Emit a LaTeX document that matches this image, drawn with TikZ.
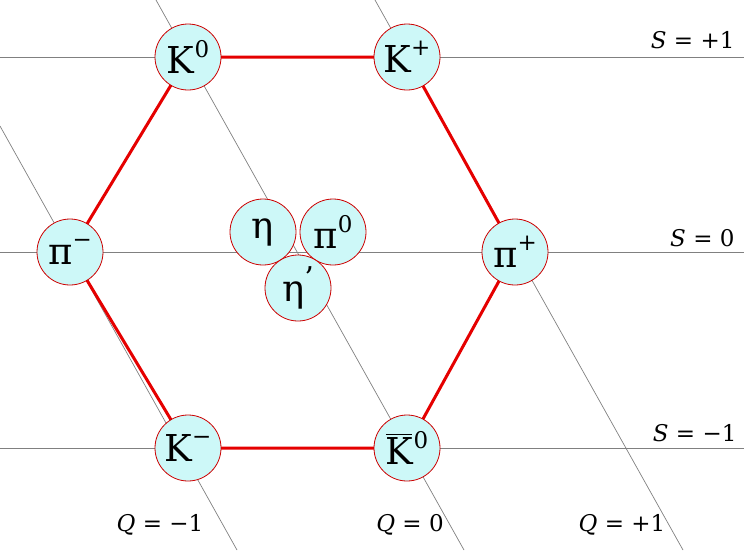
\documentclass[tikz,border=0pt]{standalone}
\usepackage{fontspec}
\setmainfont{DejaVu Serif}
\definecolor{mesonfill}{RGB}{205,248,248}
\newcommand{\up}[1]{\raisebox{0.45em}{\fontsize{23}{23}\selectfont #1}}
\tikzset{
  meson/.style={circle, draw=red!80!black, fill=mesonfill, line width=0.8pt, minimum size=66pt, inner sep=0pt, font=\fontsize{37}{39}\selectfont},
  grid line/.style={gray, line width=0.7pt},
  octet/.style={red!90!black, line width=3pt},
  axis label/.style={font=\fontsize{23}{25}\selectfont}
}
\begin{document}
\begin{tikzpicture}[x=1pt,y=-1pt]
  \useasboundingbox (0,0) rectangle (744,550);
  % strangeness lines
  \draw[grid line] (0,57) -- (744,57);
  \draw[grid line] (0,252) -- (744,252);
  \draw[grid line] (0,448) -- (744,448);
  % charge lines
  \draw[grid line] (0,126) -- (237,550);
  \draw[grid line] (156,0) -- (464,550);
  \draw[grid line] (375,0) -- (683,550);
  % hexagon
  \coordinate (k0) at (188,57);
  \coordinate (kp) at (407,57);
  \coordinate (pip) at (515,252);
  \coordinate (kb) at (407,448);
  \coordinate (km) at (188,448);
  \coordinate (pim) at (70,252);
  \draw[octet] (k0) -- (kp) -- (pip) -- (kb) -- (km) -- (pim) -- cycle;
  \node[meson] (K0) at (k0) {K\up{0}};
  \node[meson] (Kp) at (kp) {K\up{+}};
  \node[meson] (Pip) at (pip) {π\up{+}};
  \node[meson] (Kb) at (kb) {\rlap{\raisebox{0.8em}{\rule{0.7em}{1.5pt}}}K\up{0}};
  \node[meson] (Km) at (km) {K\up{−}};
  \node[meson] (Pim) at (pim) {π\up{−}};
  \node[meson] (eta) at (263,232) {η};
  \node[meson] (pi0) at (333,232) {π\up{0}};
  \node[meson] (etap) at (298,288) {η\raisebox{0.35em}{\fontsize{30}{30}\selectfont '}};
  % labels
  \node[axis label, anchor=east] (s1) at (738,40) {\textit{S} = +1};
  \node[axis label, anchor=east] (s0) at (738,238) {\textit{S} = 0};
  \node[axis label, anchor=east] (s2) at (740,433) {\textit{S} = −1};
  \node[axis label] (q1) at (160,525) {\textit{Q} = −1};
  \node[axis label] (q0) at (410,525) {\textit{Q} = 0};
  \node[axis label] (q2) at (622,525) {\textit{Q} = +1};
\end{tikzpicture}
\end{document}
